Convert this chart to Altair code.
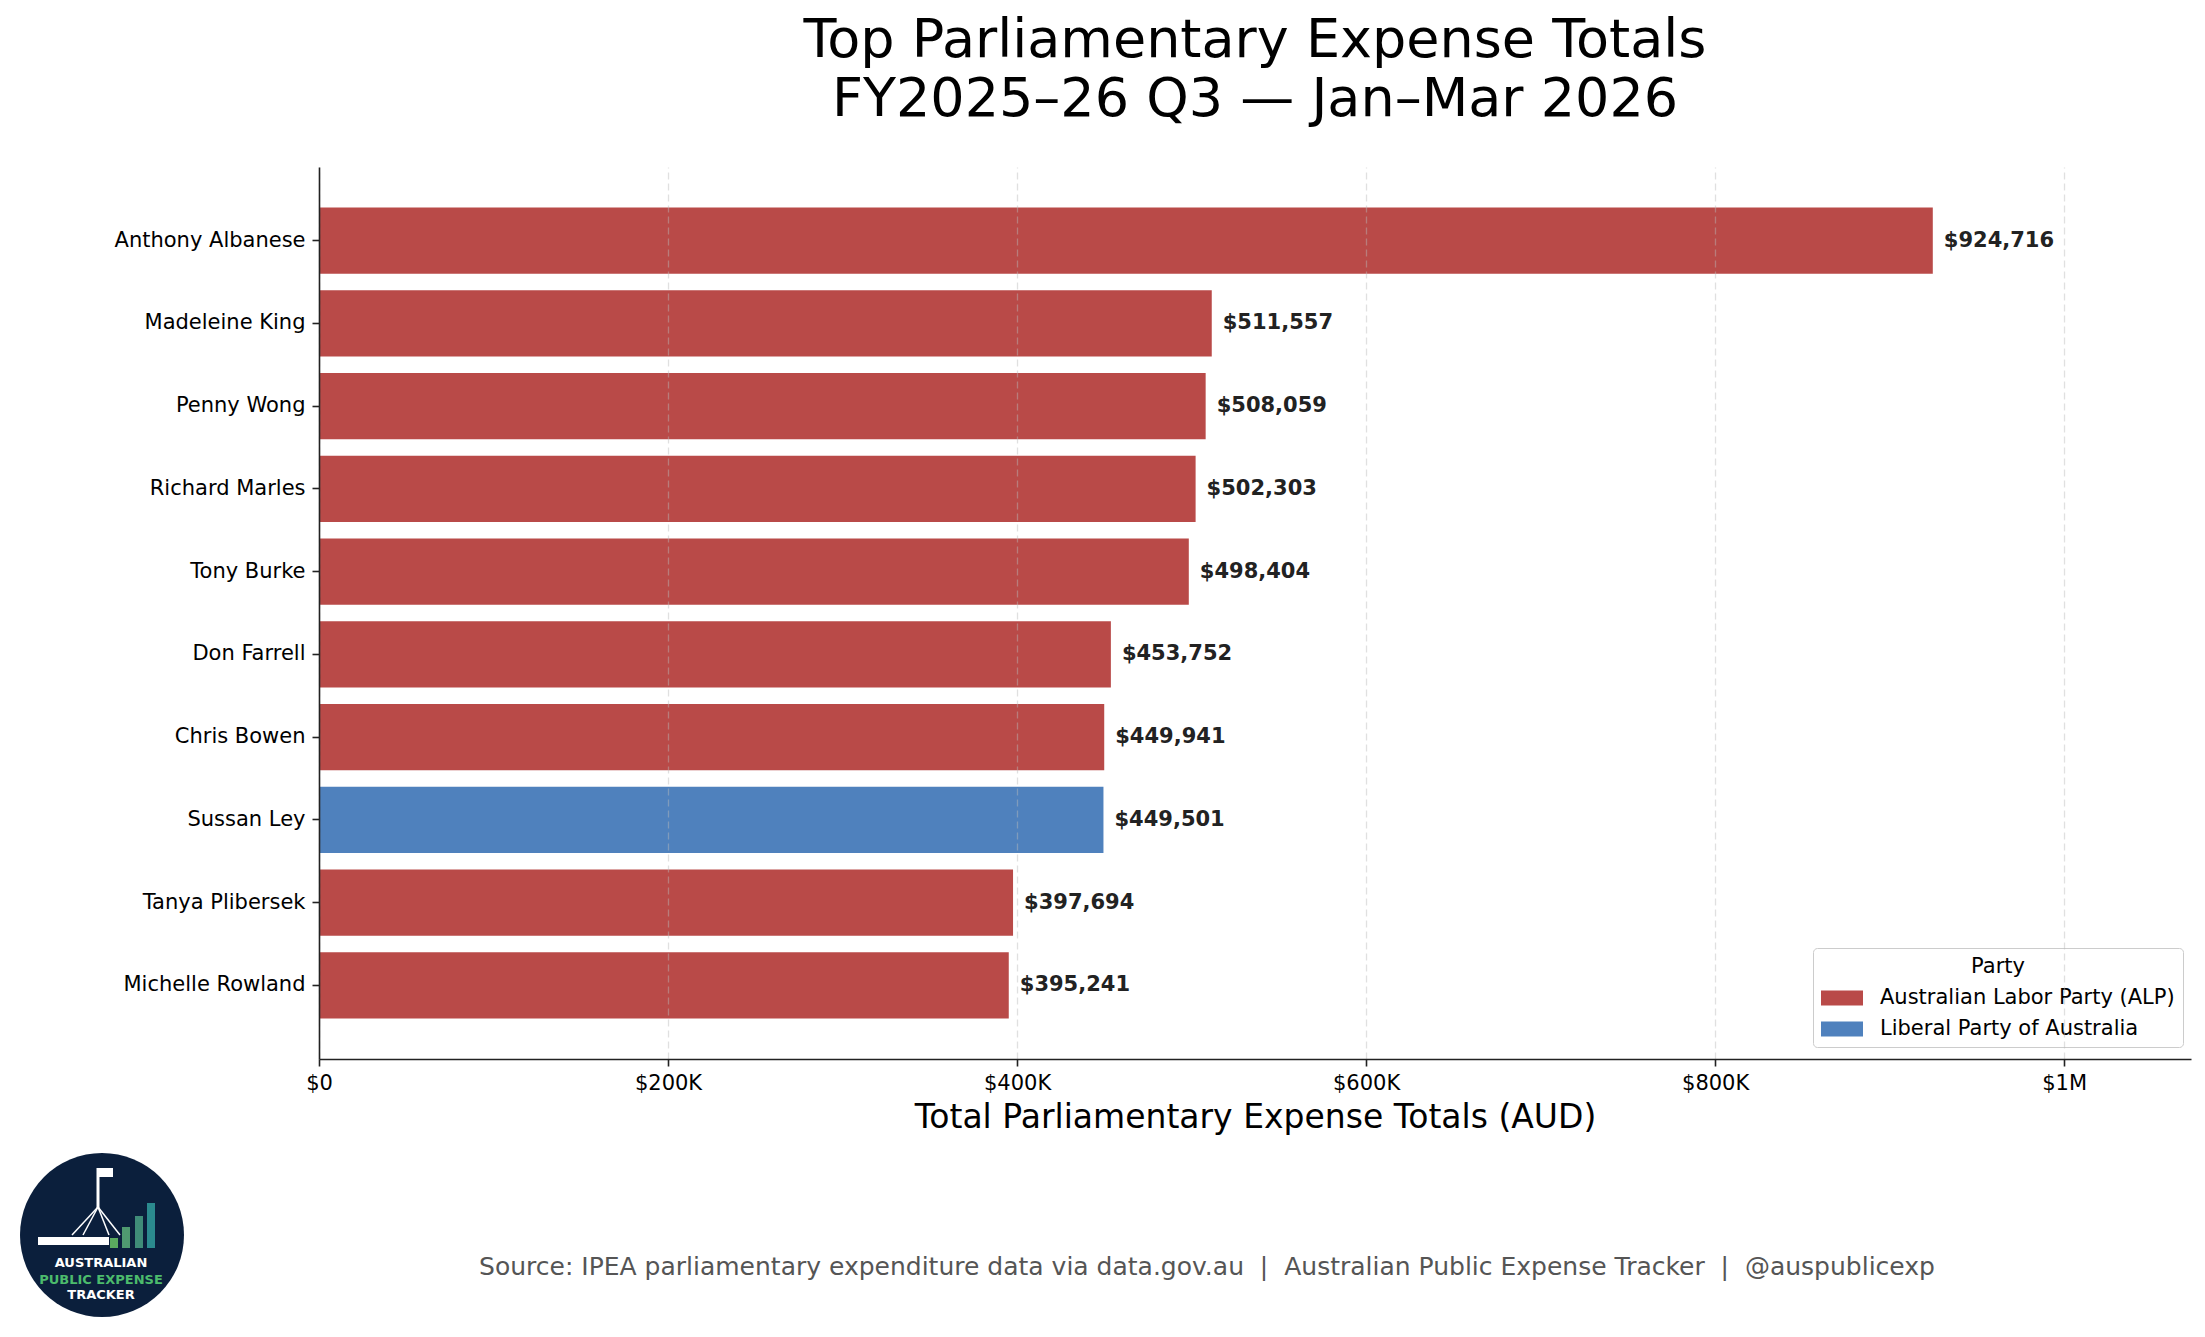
import pandas as pd
import altair as alt

# ---------- data ----------

names = [
    "Anthony Albanese", "Madeleine King", "Penny Wong", "Richard Marles", "Tony Burke",
    "Don Farrell", "Chris Bowen", "Sussan Ley", "Tanya Plibersek", "Michelle Rowland",
]
totals = [924716, 511557, 508059, 502303, 498404, 453752, 449941, 449501, 397694, 395241]
parties = [
    "Australian Labor Party (ALP)", "Australian Labor Party (ALP)", "Australian Labor Party (ALP)",
    "Australian Labor Party (ALP)", "Australian Labor Party (ALP)", "Australian Labor Party (ALP)",
    "Australian Labor Party (ALP)", "Liberal Party of Australia", "Australian Labor Party (ALP)",
    "Australian Labor Party (ALP)",
]
party_names = ["Australian Labor Party (ALP)", "Liberal Party of Australia"]
party_colors = ["#B94A48", "#4F81BD"]
x_ticks = [0, 200000, 400000, 600000, 800000, 1000000]

title_lines = ["Top Parliamentary Expense Totals", "FY2025\u201326 Q3 \u2014 Jan\u2013Mar 2026"]
x_title = "Total Parliamentary Expense Totals (AUD)"
sep = "\u00a0\u00a0|\u00a0\u00a0"
source_text = ("Source: IPEA parliamentary expenditure data via data.gov.au" + sep +
               "Australian Public Expense Tracker" + sep + "@auspublicexp")
logo_words = ["AUSTRALIAN", "PUBLIC EXPENSE", "TRACKER"]

FONT = "DejaVu Sans"
W, H = 1872, 892

df = pd.DataFrame({"name": names, "total": totals, "party": parties})
df["label"] = df["total"].map(lambda v: f"${v:,.0f}")

# ---------- main bars ----------

base = alt.Chart(df)

y_enc = alt.Y(
    "name:N", sort=names, title=None,
    scale=alt.Scale(paddingInner=0.2, paddingOuter=0.49),
    axis=alt.Axis(labelFontSize=21, labelColor="black", labelFont=FONT, labelLimit=600,
                  tickSize=7, tickColor="#222", tickWidth=1.6, domainColor="#222",
                  domainWidth=1.6, labelPadding=7, zindex=2),
)

bars = base.mark_bar().encode(
    x=alt.X(
        "total:Q", title=x_title,
        scale=alt.Scale(domain=[0, max(totals) * 1.16], nice=False),
        axis=alt.Axis(
            values=x_ticks,
            labelExpr="datum.value == 0 ? '$0' : datum.value >= 1000000 ? '$' + datum.value / 1000000 + 'M' : '$' + datum.value / 1000 + 'K'",
            labelFontSize=21, labelColor="black", labelFont=FONT, labelPadding=6,
            labelFlush=False,
            tickSize=7, tickColor="#222", tickWidth=1.6, domainColor="#222", domainWidth=1.6,
            grid=True, gridColor="#bbbbbb", gridOpacity=0.45, gridDash=[7, 4], gridWidth=1.3,
            titleFontSize=33, titleFont=FONT, titleFontWeight="normal", titleColor="black",
            titleBaseline="alphabetic", titleY=68, zindex=1,
        ),
    ),
    y=y_enc,
    color=alt.Color(
        "party:N", title="Party",
        scale=alt.Scale(domain=party_names, range=party_colors),
        legend=alt.Legend(
            orient="none", legendX=1494, legendY=781,
            symbolType="M-1,-0.36H1V0.36H-1Z", symbolSize=1764, symbolStrokeWidth=0,
            symbolOpacity=1, labelFontSize=21, labelFont=FONT, labelColor="black",
            labelLimit=600, labelOffset=17, titleFontSize=21, titleFont=FONT,
            titleFontWeight="normal", titleColor="black", titleAnchor="middle",
            titleAlign="center", titlePadding=0, rowPadding=0, padding=8,
            strokeColor="#cccccc", cornerRadius=4, fillColor="rgba(255,255,255,0.8)",
        ),
    ),
)

labels = base.mark_text(
    align="left", baseline="middle", dx=11, fontSize=21, fontWeight="bold",
    font=FONT, color="#222222",
).encode(x="total:Q", y=y_enc, text="label:N")

# ---------- footer: source line and logo ----------

one = pd.DataFrame({"k": [0]})

source = alt.Chart(one).mark_text(
    text=source_text, fontSize=25, font=FONT, color="#555555",
    align="center", baseline="alphabetic",
).encode(x=alt.value(888), y=alt.value(1108))


def make_logo():
    layers = []
    layers.append(alt.Chart(one).mark_point(
        shape="circle", filled=True, size=26900, color="#0b1f3c", opacity=1,
    ).encode(x=alt.value(-217), y=alt.value(1068)))
    # parliament house: pole, legs, flag, base
    layers.append(alt.Chart(one).mark_rule(color="white", strokeWidth=3).encode(
        x=alt.value(-221), x2=alt.value(-221), y=alt.value(1001), y2=alt.value(1041)))
    for lx in [-247, -236, -210, -199]:
        layers.append(alt.Chart(one).mark_rule(color="white", strokeWidth=1.5).encode(
            x=alt.value(-221), x2=alt.value(lx), y=alt.value(1040), y2=alt.value(1068)))
    layers.append(alt.Chart(one).mark_rect(color="white").encode(
        x=alt.value(-220), x2=alt.value(-206), y=alt.value(1001), y2=alt.value(1010)))
    layers.append(alt.Chart(one).mark_rect(color="white").encode(
        x=alt.value(-281), x2=alt.value(-210), y=alt.value(1070), y2=alt.value(1078)))
    # rising bars
    for (x0, top, col) in [(-209, 1071, "#5aaa5f"), (-197, 1060, "#4f9a70"),
                           (-184, 1049, "#3f8c78"), (-172, 1036, "#2b8a8e")]:
        layers.append(alt.Chart(one).mark_rect(color=col).encode(
            x=alt.value(x0), x2=alt.value(x0 + 8), y=alt.value(top), y2=alt.value(1081)))
    for word, yy, col in zip(logo_words, [1096, 1113, 1128], ["white", "#4cbb6c", "white"]):
        layers.append(alt.Chart(one).mark_text(
            text=word, fontSize=13, fontWeight="bold", font=FONT, color=col,
            align="center", baseline="middle",
        ).encode(x=alt.value(-218), y=alt.value(yy)))
    return layers


chart = (
    alt.layer(bars, labels, source, *make_logo())
    .properties(
        width=W, height=H,
        background="white",
        title=alt.TitleParams(
            text=title_lines, fontSize=54, font=FONT, fontWeight="normal", color="black",
            anchor="middle", frame="group", baseline="bottom", lineHeight=59, offset=-14,
        ),
        autosize=alt.AutoSizeParams(type="none"),
        padding={"left": 311, "top": 159, "right": 6, "bottom": 270},
    )
    .configure_view(stroke="transparent", strokeWidth=0)
)

chart.save("out.html", embed_options={"renderer": "svg", "actions": False})
